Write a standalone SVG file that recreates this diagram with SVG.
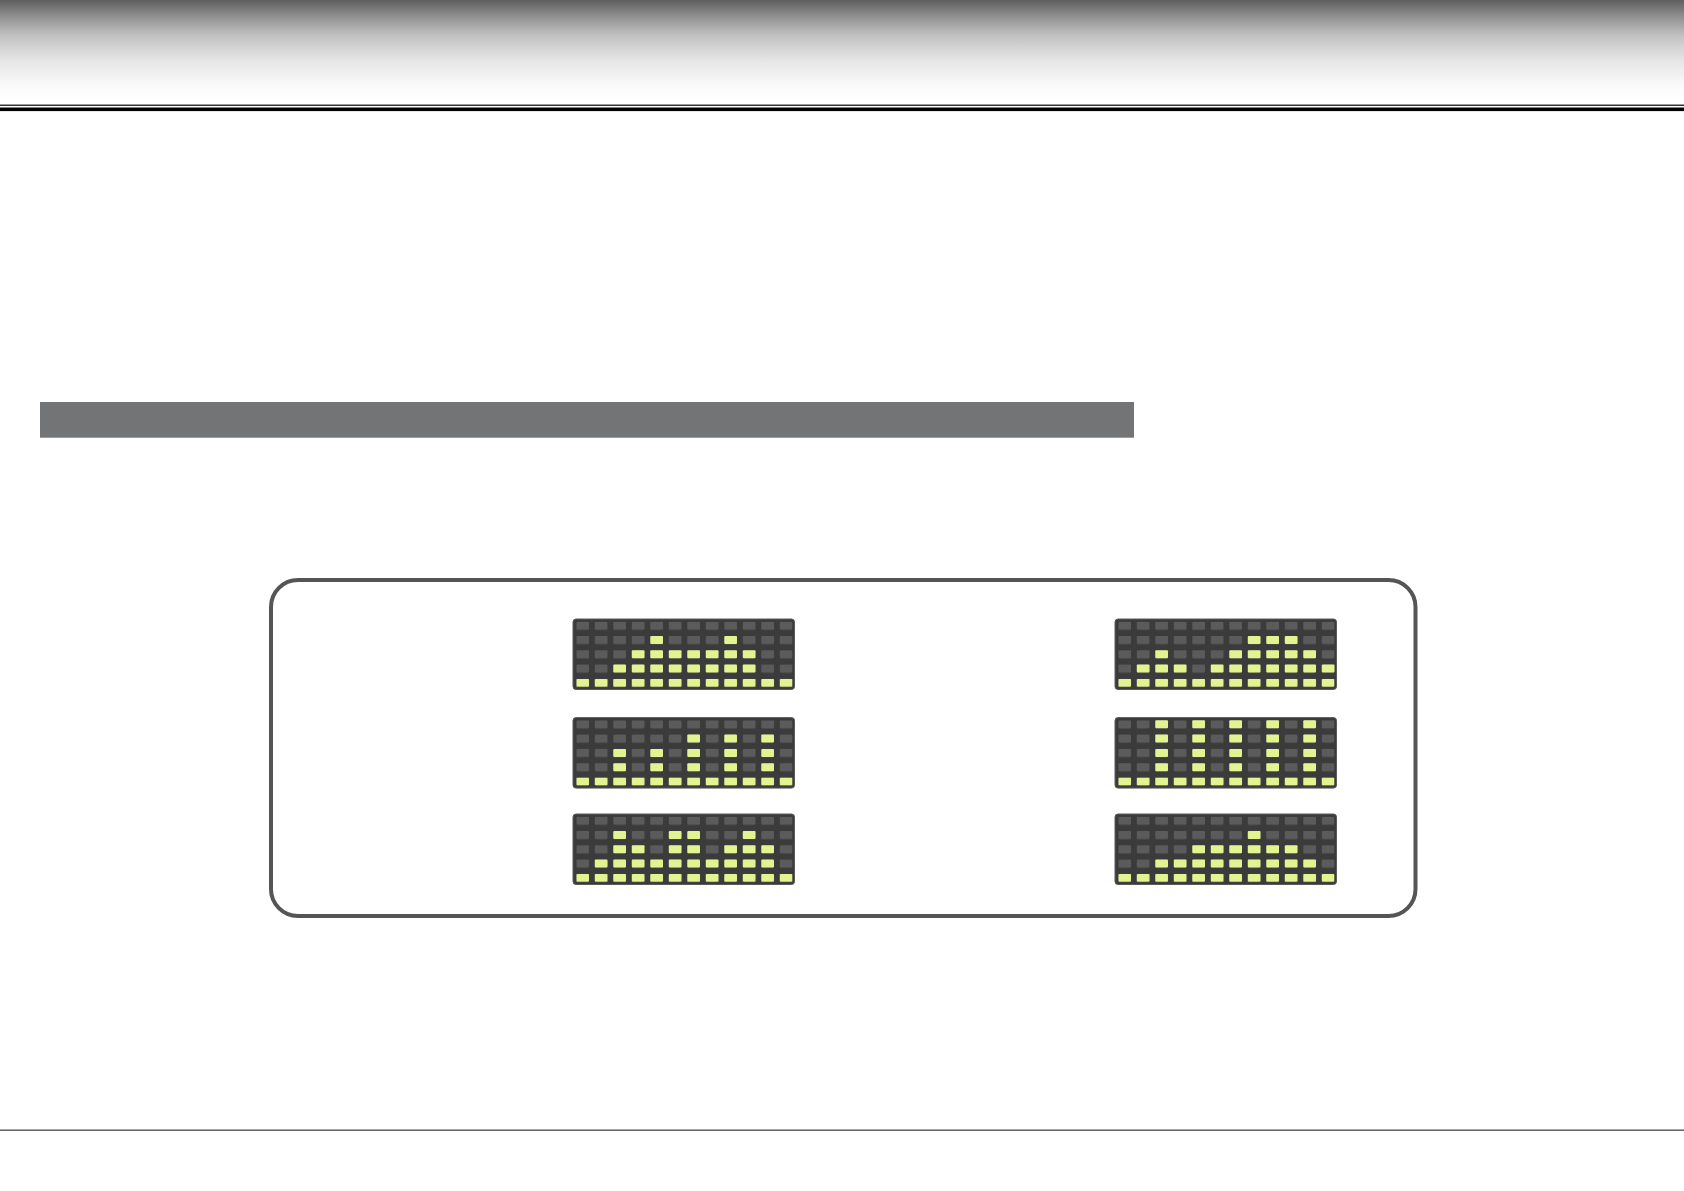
<svg xmlns="http://www.w3.org/2000/svg" xmlns:xlink="http://www.w3.org/1999/xlink" width="1684" height="1191" viewBox="0 0 1684 1191">
<style>
.panel{fill:#3b3b3b;stroke:#5a5a5a;stroke-width:1}
.frame{fill:#ffffff;stroke:#555555;stroke-width:4}
</style>
<defs>
<linearGradient id="hdr" x1="0" y1="0" x2="0" y2="1">
<stop offset="0" stop-color="#5e5e5e"/>
<stop offset="0.15" stop-color="#8c8c8c"/>
<stop offset="0.35" stop-color="#c2c2c2"/>
<stop offset="0.6" stop-color="#e6e6e6"/>
<stop offset="0.85" stop-color="#fbfbfb"/>
<stop offset="1" stop-color="#ffffff"/>
</linearGradient>
<pattern id="offp" patternUnits="userSpaceOnUse" x="3.3" y="2.7" width="18.5" height="14.3">
<rect width="12.7" height="8" rx="1" fill="#5b5b5b"/>
</pattern>
<pattern id="onp" patternUnits="userSpaceOnUse" x="3.3" y="2.7" width="18.5" height="14.3">
<rect width="12.7" height="8" rx="1" fill="#e2f490"/>
</pattern>
<rect id="on" width="12.7" height="8" rx="1" fill="#e2f490"/>
</defs>
<rect x="0" y="0" width="1684" height="1191" fill="#ffffff"/>
<rect x="0" y="0" width="1684" height="102" fill="url(#hdr)"/>
<rect x="0" y="104.6" width="1684" height="1.2" fill="#000"/>
<rect x="0" y="107.5" width="1684" height="3.6" fill="#000"/>
<rect x="40" y="402" width="1094" height="35.7" fill="#737476"/>
<rect class="frame" x="271" y="580" width="1144.5" height="336" rx="27"/>
<rect x="0" y="1129.5" width="1684" height="1.4" fill="#555555"/>

<g id="panel-tl" transform="translate(573,619)">
<rect class="panel" x="0" y="0" width="221.5" height="70.5" rx="3"/>
<rect x="3.3" y="2.7" width="216.2" height="66" fill="url(#offp)"/>
<rect x="3.3" y="59.9" width="216.2" height="8" fill="url(#onp)"/>
<use href="#on" x="77.3" y="17"/><use href="#on" x="151.3" y="17"/>
<use href="#on" x="58.8" y="31.3"/><use href="#on" x="77.3" y="31.3"/><use href="#on" x="95.8" y="31.3"/><use href="#on" x="114.3" y="31.3"/><use href="#on" x="132.8" y="31.3"/><use href="#on" x="151.3" y="31.3"/><use href="#on" x="169.8" y="31.3"/>
<use href="#on" x="40.3" y="45.6"/><use href="#on" x="58.8" y="45.6"/><use href="#on" x="77.3" y="45.6"/><use href="#on" x="95.8" y="45.6"/><use href="#on" x="114.3" y="45.6"/><use href="#on" x="132.8" y="45.6"/><use href="#on" x="151.3" y="45.6"/><use href="#on" x="169.8" y="45.6"/>
</g>

<g id="panel-tr" transform="translate(1115,619)">
<rect class="panel" x="0" y="0" width="221.5" height="70.5" rx="3"/>
<rect x="3.3" y="2.7" width="216.2" height="66" fill="url(#offp)"/>
<rect x="3.3" y="59.9" width="216.2" height="8" fill="url(#onp)"/>
<use href="#on" x="132.8" y="17"/><use href="#on" x="151.3" y="17"/><use href="#on" x="169.8" y="17"/>
<use href="#on" x="40.3" y="31.3"/><use href="#on" x="114.3" y="31.3"/><use href="#on" x="132.8" y="31.3"/><use href="#on" x="151.3" y="31.3"/><use href="#on" x="169.8" y="31.3"/><use href="#on" x="188.3" y="31.3"/>
<use href="#on" x="21.8" y="45.6"/><use href="#on" x="40.3" y="45.6"/><use href="#on" x="58.8" y="45.6"/><use href="#on" x="95.8" y="45.6"/><use href="#on" x="114.3" y="45.6"/><use href="#on" x="132.8" y="45.6"/><use href="#on" x="151.3" y="45.6"/><use href="#on" x="169.8" y="45.6"/><use href="#on" x="188.3" y="45.6"/><use href="#on" x="206.8" y="45.6"/>
</g>

<g id="panel-ml" transform="translate(573,717.6)">
<rect class="panel" x="0" y="0" width="221.5" height="70.5" rx="3"/>
<rect x="3.3" y="2.7" width="216.2" height="66" fill="url(#offp)"/>
<rect x="3.3" y="59.9" width="216.2" height="8" fill="url(#onp)"/>
<use href="#on" x="114.3" y="17"/><use href="#on" x="151.3" y="17"/><use href="#on" x="188.3" y="17"/>
<use href="#on" x="40.3" y="31.3"/><use href="#on" x="77.3" y="31.3"/><use href="#on" x="114.3" y="31.3"/><use href="#on" x="151.3" y="31.3"/><use href="#on" x="188.3" y="31.3"/>
<use href="#on" x="40.3" y="45.6"/><use href="#on" x="77.3" y="45.6"/><use href="#on" x="114.3" y="45.6"/><use href="#on" x="151.3" y="45.6"/><use href="#on" x="188.3" y="45.6"/>
</g>

<g id="panel-mr" transform="translate(1115,717.6)">
<rect class="panel" x="0" y="0" width="221.5" height="70.5" rx="3"/>
<rect x="3.3" y="2.7" width="216.2" height="66" fill="url(#offp)"/>
<rect x="3.3" y="59.9" width="216.2" height="8" fill="url(#onp)"/>
<use href="#on" x="40.3" y="2.7"/><use href="#on" x="77.3" y="2.7"/><use href="#on" x="114.3" y="2.7"/><use href="#on" x="151.3" y="2.7"/><use href="#on" x="188.3" y="2.7"/>
<use href="#on" x="40.3" y="17"/><use href="#on" x="77.3" y="17"/><use href="#on" x="114.3" y="17"/><use href="#on" x="151.3" y="17"/><use href="#on" x="188.3" y="17"/>
<use href="#on" x="40.3" y="31.3"/><use href="#on" x="77.3" y="31.3"/><use href="#on" x="114.3" y="31.3"/><use href="#on" x="151.3" y="31.3"/><use href="#on" x="188.3" y="31.3"/>
<use href="#on" x="40.3" y="45.6"/><use href="#on" x="77.3" y="45.6"/><use href="#on" x="114.3" y="45.6"/><use href="#on" x="151.3" y="45.6"/><use href="#on" x="188.3" y="45.6"/>
</g>

<g id="panel-bl" transform="translate(573,814)">
<rect class="panel" x="0" y="0" width="221.5" height="70.5" rx="3"/>
<rect x="3.3" y="2.7" width="216.2" height="66" fill="url(#offp)"/>
<rect x="3.3" y="59.9" width="216.2" height="8" fill="url(#onp)"/>
<use href="#on" x="40.3" y="17"/><use href="#on" x="95.8" y="17"/><use href="#on" x="114.3" y="17"/><use href="#on" x="169.8" y="17"/>
<use href="#on" x="40.3" y="31.3"/><use href="#on" x="58.8" y="31.3"/><use href="#on" x="95.8" y="31.3"/><use href="#on" x="114.3" y="31.3"/><use href="#on" x="151.3" y="31.3"/><use href="#on" x="169.8" y="31.3"/><use href="#on" x="188.3" y="31.3"/>
<use href="#on" x="21.8" y="45.6"/><use href="#on" x="40.3" y="45.6"/><use href="#on" x="58.8" y="45.6"/><use href="#on" x="77.3" y="45.6"/><use href="#on" x="95.8" y="45.6"/><use href="#on" x="114.3" y="45.6"/><use href="#on" x="132.8" y="45.6"/><use href="#on" x="151.3" y="45.6"/><use href="#on" x="169.8" y="45.6"/><use href="#on" x="188.3" y="45.6"/>
</g>

<g id="panel-br" transform="translate(1115,814)">
<rect class="panel" x="0" y="0" width="221.5" height="70.5" rx="3"/>
<rect x="3.3" y="2.7" width="216.2" height="66" fill="url(#offp)"/>
<rect x="3.3" y="59.9" width="216.2" height="8" fill="url(#onp)"/>
<use href="#on" x="132.8" y="17"/>
<use href="#on" x="77.3" y="31.3"/><use href="#on" x="95.8" y="31.3"/><use href="#on" x="114.3" y="31.3"/><use href="#on" x="132.8" y="31.3"/><use href="#on" x="151.3" y="31.3"/><use href="#on" x="169.8" y="31.3"/>
<use href="#on" x="40.3" y="45.6"/><use href="#on" x="58.8" y="45.6"/><use href="#on" x="77.3" y="45.6"/><use href="#on" x="95.8" y="45.6"/><use href="#on" x="114.3" y="45.6"/><use href="#on" x="132.8" y="45.6"/><use href="#on" x="151.3" y="45.6"/><use href="#on" x="169.8" y="45.6"/><use href="#on" x="188.3" y="45.6"/>
</g>

<g id="connectors"></g>
</svg>
